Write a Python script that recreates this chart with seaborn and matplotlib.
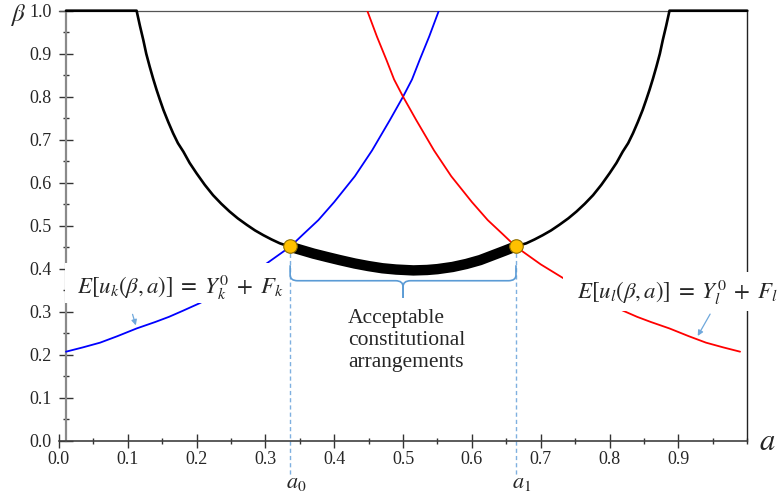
import numpy as np
import pandas as pd
import matplotlib
matplotlib.use("Agg")
import matplotlib.pyplot as plt
from matplotlib.path import Path
from matplotlib.patches import PathPatch, Rectangle
from matplotlib.ticker import MultipleLocator
import seaborn as sns

# ---------------- data ----------------
# blue curve: E[u_k(beta,a)] = Y_k^0 + F_k
blue_x = [0.0105, 0.035, 0.06, 0.085, 0.113, 0.14, 0.16, 0.18, 0.205, 0.25, 0.30, 0.336,
          0.355, 0.377, 0.40, 0.43, 0.455, 0.481, 0.50, 0.513, 0.524, 0.538, 0.552]
blue_y = [0.207, 0.217, 0.228, 0.243, 0.261, 0.276, 0.288, 0.302, 0.320, 0.361, 0.41, 0.451,
          0.48, 0.513, 0.555, 0.615, 0.675, 0.746, 0.80, 0.84, 0.885, 0.94, 1.0]
# red curve: E[u_l(beta,a)] = Y_l^0 + F_l
red_x = [0.448, 0.462, 0.476, 0.487, 0.50, 0.519, 0.545, 0.57, 0.60, 0.623, 0.645, 0.664,
         0.70, 0.75, 0.795, 0.82, 0.84, 0.86, 0.887, 0.915, 0.94, 0.965, 0.9895]
red_y = [1.0, 0.94, 0.885, 0.84, 0.80, 0.746, 0.675, 0.615, 0.555, 0.513, 0.48, 0.451,
         0.41, 0.361, 0.320, 0.302, 0.288, 0.276, 0.261, 0.243, 0.228, 0.217, 0.207]
# black envelope curve
black_x = [0.0105, 0.113, 0.1178, 0.1227, 0.127, 0.132, 0.137, 0.142, 0.147, 0.152, 0.159, 0.166,
           0.173, 0.181, 0.19, 0.200, 0.212, 0.224, 0.236, 0.248, 0.26, 0.273, 0.285, 0.297,
           0.309, 0.321, 0.336, 0.353, 0.37, 0.39, 0.408, 0.43, 0.45, 0.47, 0.49, 0.515, 0.535,
           0.55, 0.572, 0.592, 0.612, 0.63, 0.648, 0.664,
           0.679, 0.691, 0.703, 0.715, 0.727, 0.740, 0.752, 0.764, 0.776, 0.788, 0.800, 0.810,
           0.819, 0.827, 0.834, 0.841, 0.848, 0.853, 0.858, 0.863, 0.868, 0.873, 0.8773, 0.8822,
           0.887, 1.0]
black_y = [1.0, 1.0, 0.965, 0.932, 0.900, 0.870, 0.842, 0.816, 0.792, 0.769, 0.741, 0.715,
           0.692, 0.672, 0.646, 0.622, 0.595, 0.571, 0.551, 0.533, 0.517, 0.502, 0.489, 0.478,
           0.468, 0.459, 0.451, 0.443, 0.435, 0.427, 0.42, 0.412, 0.406, 0.401, 0.398, 0.396, 0.397,
           0.399, 0.404, 0.411, 0.42, 0.431, 0.442, 0.452,
           0.459, 0.468, 0.478, 0.489, 0.502, 0.517, 0.533, 0.551, 0.571, 0.595, 0.622, 0.646,
           0.672, 0.692, 0.715, 0.741, 0.769, 0.792, 0.816, 0.842, 0.870, 0.900, 0.932, 0.965,
           1.0, 1.0]
# acceptable segment (thick)
thick_x = [0.336, 0.353, 0.37, 0.39, 0.408, 0.43, 0.45, 0.47, 0.49, 0.515, 0.535, 0.55, 0.572,
           0.592, 0.612, 0.63, 0.648, 0.664]
thick_y = [0.451, 0.443, 0.435, 0.427, 0.42, 0.412, 0.406, 0.401, 0.398, 0.396, 0.397, 0.399,
           0.404, 0.411, 0.42, 0.431, 0.442, 0.452]
# intersection points a0, a1
pts_x = [0.336, 0.664]
pts_y = [0.452, 0.452]
pts_labels = [r"$a_0$", r"$a_1$"]

xticks = [0.0, 0.1, 0.2, 0.3, 0.4, 0.5, 0.6, 0.7, 0.8, 0.9]
yticks = [0.0, 0.1, 0.2, 0.3, 0.4, 0.5, 0.6, 0.7, 0.8, 0.9, 1.0]

# ---------------- style ----------------
sns.set_style("white")
plt.rcParams["font.family"] = ["Liberation Serif", "DejaVu Serif"]
plt.rcParams["mathtext.fontset"] = "stix"

fig = plt.figure(figsize=(7.83, 4.97), dpi=100)
ax = fig.add_axes([0.0751, 0.1133, 0.8793, 0.8652])
ax.set_xlim(0, 1.0)
ax.set_ylim(0, 1.0)

sns.lineplot(x=blue_x, y=blue_y, ax=ax, sort=False, estimator=None, color="#0000FF", lw=1.3,
             zorder=3, solid_joinstyle="round")
sns.lineplot(x=red_x, y=red_y, ax=ax, sort=False, estimator=None, color="#FF0000", lw=1.3,
             zorder=3, solid_joinstyle="round")
sns.lineplot(x=black_x, y=black_y, ax=ax, sort=False, estimator=None, color="black", lw=1.9,
             zorder=3.2, clip_on=False, solid_joinstyle="round")
sns.lineplot(x=thick_x, y=thick_y, ax=ax, sort=False, estimator=None, color="black", lw=7.5,
             zorder=3.3, solid_capstyle="butt", solid_joinstyle="round")

# dashed drops
for px, py in zip(pts_x, pts_y):
    ax.plot([px, px], [py, -0.084], color="#7FB0E0", lw=1.0, ls=(0, (3, 2.2)), clip_on=False, zorder=2)

sns.scatterplot(x=pts_x, y=pts_y, ax=ax, s=95, color="#FFC000", edgecolor="#8C6D00",
                linewidth=0.8, zorder=6)

for lab, xx in zip(pts_labels, [0.330, 0.658]):
    ax.text(xx, -0.099, lab, fontsize=16, ha="left", va="center", clip_on=False)

# spines / axes
ax.spines["left"].set_position(("data", 0.0105))
ax.spines["left"].set_color("#8A8A8A")
ax.spines["left"].set_linewidth(1.6)
ax.spines["bottom"].set_color("#404040")
ax.spines["bottom"].set_linewidth(1.2)
ax.spines["top"].set_color("#555555")
ax.spines["top"].set_linewidth(0.9)
ax.spines["right"].set_color("#222222")
ax.spines["right"].set_linewidth(1.0)
for s in ax.spines.values():
    s.set_visible(True)

ax.set_xticks(xticks)
ax.set_xticklabels([f"{v:.1f}" for v in xticks])
ax.set_yticks(yticks)
ax.set_yticklabels([f"{v:.1f}" for v in yticks])
ax.xaxis.set_minor_locator(MultipleLocator(0.05))
ax.yaxis.set_minor_locator(MultipleLocator(0.05))
ax.tick_params(axis="x", which="major", direction="inout", length=9.4, width=1.0, color="#333333",
               labelsize=13, pad=2.5, bottom=True)
ax.tick_params(axis="y", which="major", direction="inout", length=10, width=1.0, color="#333333",
               labelsize=13, pad=5.3, left=True)
ax.tick_params(axis="both", which="minor", direction="inout", length=4.3, width=1.0, color="#333333",
               bottom=True, left=True)
ax.tick_params(top=False, right=False, which="both")

# axis labels
fig.text(18 / 783, 1 - 15 / 497, r"$\beta$", fontsize=18, ha="center", va="center")
fig.text(767 / 783, 1 - 443 / 497, r"$a$", fontsize=22, ha="center", va="center")

# white boxes behind the curve labels
ax.add_patch(Rectangle((0.009, 0.320), 0.3237, 0.093, facecolor="white", edgecolor="none",
                       zorder=4, clip_on=False))
ax.add_patch(Rectangle((0.732, 0.302), 0.40, 0.090, facecolor="white", edgecolor="none",
                       zorder=4, clip_on=False))

ax.text(0.026, 0.357, r"$E[u_k(\beta,a)]\;=\;Y_k^0\;+\;F_k$", fontsize=16.5, ha="left",
        va="center", zorder=5, clip_on=False)
ax.text(0.752, 0.345, r"$E[u_l(\beta,a)]\;=\;Y_l^0\;+\;F_l$", fontsize=16.5, ha="left",
        va="center", zorder=5, clip_on=False)

# pointer arrows
ax.annotate("", xy=(0.113, 0.262), xytext=(0.106, 0.30),
            arrowprops=dict(arrowstyle="-|>", color="#6FA8DC", lw=0.9, mutation_scale=8), zorder=5)
ax.annotate("", xy=(0.926, 0.238), xytext=(0.948, 0.30),
            arrowprops=dict(arrowstyle="-|>", color="#6FA8DC", lw=0.9, mutation_scale=8), zorder=5)

# curly brace
bc = "#5B9BD5"
left_half = [(0.336, 0.408), (0.336, 0.385), (0.336, 0.372), (0.347, 0.372), (0.489, 0.372),
             (0.5, 0.372), (0.5, 0.358), (0.5, 0.332)]
codes = [Path.MOVETO, Path.LINETO, Path.CURVE3, Path.CURVE3, Path.LINETO, Path.CURVE3, Path.CURVE3,
         Path.LINETO]
right_half = [(1.0 - x, y) for x, y in left_half]
for verts in (left_half, right_half):
    ax.add_patch(PathPatch(Path(verts, codes), facecolor="none", edgecolor=bc, lw=1.2, zorder=5))

ax.text(0.42, 0.306, "Acceptable\nconstitutional\narrangements", fontsize=15.5, ha="left",
        va="top", linespacing=1.22, zorder=5)

fig.savefig("out.png", dpi=100)
